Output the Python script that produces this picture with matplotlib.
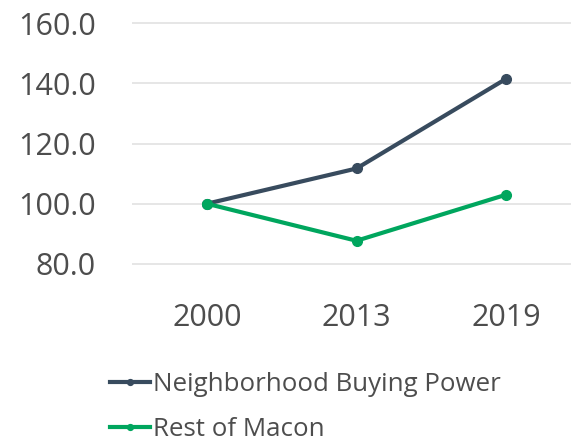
import matplotlib
matplotlib.use('Agg')
from matplotlib import pyplot as plt

# chart data
years = ['2000', '2013', '2019']
neighborhood = [100.0, 111.7, 141.5]
rest_of_macon = [100.0, 87.7, 103.0]
y_ticks = [80, 100, 120, 140, 160]

blue = '#384b5e'
green = '#00a65e'
text_color = '#4d4d4d'

plt.rcParams['font.family'] = ['Open Sans', 'DejaVu Sans']

fig = plt.figure(figsize=(5.71, 4.43), dpi=100)
# axes runs past the right edge, like the cropped original
ax = fig.add_axes([132 / 571, 164 / 443, 449 / 571, 271 / 443])

x = list(range(len(years)))
ax.plot(x, neighborhood, color=blue, lw=3, marker='o', ms=7,
        label='Neighborhood Buying Power', zorder=3)
ax.plot(x, rest_of_macon, color=green, lw=3, marker='o', ms=7,
        label='Rest of Macon', zorder=3)

ax.set_xlim(-0.5, 2.5)
ax.set_ylim(75, 165)
ax.set_xticks(x)
ax.set_xticklabels(years)
ax.set_yticks(y_ticks)
ax.set_yticklabels(['{:.1f}'.format(v) for v in y_ticks])

ax.grid(axis='y', color='#e2e2e2', lw=1.2)
ax.set_axisbelow(True)
for s in ax.spines.values():
    s.set_visible(False)
ax.tick_params(axis='both', length=0, labelsize=22, colors=text_color)
ax.tick_params(axis='y', pad=26)
ax.tick_params(axis='x', pad=17)

leg = fig.legend(loc='upper left', bbox_to_anchor=(110 / 571, 71 / 443),
                 frameon=False, fontsize=18.6, handlelength=1.55,
                 handletextpad=0.1, labelspacing=0.78, borderpad=0,
                 borderaxespad=0, markerscale=0.6)
for t in leg.get_texts():
    t.set_color(text_color)

plt.savefig('out.png', dpi=100)
